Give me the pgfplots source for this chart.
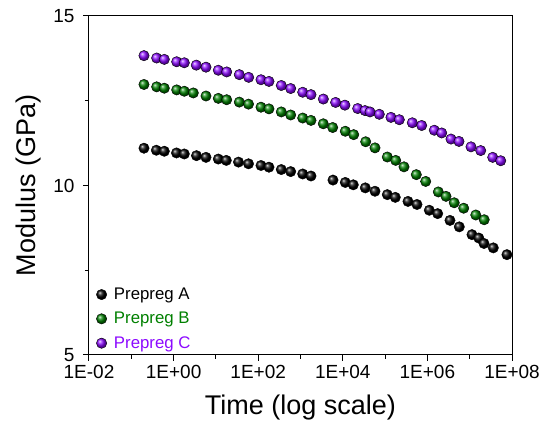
\documentclass[border=0pt]{standalone}
\usepackage{fontspec}
\setmainfont{Liberation Sans}
\usepackage{pgfplots}
\pgfplotsset{compat=1.18}
\usepackage{pgfplotstable}
\definecolor{pgreen}{RGB}{0,128,0}
\definecolor{ppurple}{RGB}{140,10,255}

\pgfplotstableread{
t E
0.1995 11.10
0.391 11.04
0.603 11.01
1.172 10.96
1.791 10.93
3.475 10.88
5.834 10.83
11.40 10.78
17.62 10.74
34.20 10.69
59.02 10.64
116.4 10.59
179.9 10.54
351.6 10.47
586.1 10.41
1127 10.34
1770 10.28
5861 10.16
11455 10.09
17700 10.02
34040 9.93
57677 9.83
112720 9.73
174181 9.65
347536 9.53
567544 9.44
1109175 9.27
1749847 9.17
3419794 8.97
5675446 8.78
11324004 8.55
16405897 8.45
21777963 8.29
36140986 8.16
75857758 7.96
}\dataA

\pgfplotstableread{
t E
0.1995 12.98
0.398 12.91
0.603 12.87
1.183 12.82
1.791 12.78
2.924 12.73
5.834 12.64
11.40 12.57
17.99 12.53
35.73 12.46
59.02 12.40
116.4 12.31
179.9 12.26
351.6 12.17
586.1 12.08
1127 11.99
1770 11.92
3459 11.82
5768 11.71
11455 11.60
18113 11.50
34754 11.29
57677 11.11
112720 10.84
178238 10.74
279898 10.55
547016 10.32
912011 10.12
1811340 9.81
2754229 9.68
4305266 9.49
7211075 9.33
13931568 9.13
22029264 8.99
}\dataB

\pgfplotstableread{
t E
0.1995 13.83
0.398 13.76
0.603 13.72
1.183 13.65
1.791 13.62
3.443 13.55
5.834 13.49
11.40 13.40
17.99 13.35
35.73 13.27
59.57 13.19
116.4 13.12
179.9 13.07
351.6 12.95
586.1 12.86
1127 12.75
1770 12.68
3467 12.55
6761 12.45
11220 12.37
22490 12.27
33497 12.21
43954 12.17
72946 12.10
137721 12.01
216770 11.94
439542 11.85
732825 11.77
1455487 11.63
2177700 11.55
3614099 11.37
5584702 11.30
10739894 11.14
18197009 11.03
34994516 10.83
54075286 10.73
}\dataC

\begin{document}
\begin{tikzpicture}
\begin{axis}[
  name=ax,
  scale only axis,
  width=423pt, height=339pt,
  xmode=log,
  xmin=1e-2, xmax=1e8,
  ymin=5, ymax=15,
  xtick={1e-2,1,1e2,1e4,1e6,1e8},
  xticklabels={1E-02,1E+00,1E+02,1E+04,1E+06,1E+08},
  minor xtick={1e-1,1e1,1e3,1e5,1e7},
  ytick={5,10,15},
  minor ytick={7.5,12.5},
  tick align=outside,
  xtick pos=bottom, ytick pos=left,
  major tick length=6pt, minor tick length=4pt,
  every tick/.style={black, line width=1pt},
  axis line style={line width=1pt},
  /pgf/number format/assume math mode=true,
  ticklabel style={font=\fontsize{19}{22}\selectfont},
  yticklabel style={xshift=-5pt},
  xticklabel style={yshift=-1pt},
  xlabel={Time (log scale)},
  ylabel={Modulus (GPa)},
  label style={font=\fontsize{27}{32}\selectfont},
  xlabel style={at={(axis description cs:0.5,0)}, anchor=center, yshift=-53pt},
  ylabel style={at={(axis description cs:0,0.5)}, anchor=center, yshift=60pt},
  legend style={at={(axis description cs:0,0)}, anchor=south west, draw=none, fill=none,
    font=\fontsize{16.8}{19}\selectfont, row sep=7.2pt, column sep=5pt, xshift=4pt, yshift=1pt},
  legend cell align=left,
  mark size=5.2pt,
]
\addplot[only marks, mark=ball, mark options={ball color=black}] table[x=t,y=E]{\dataA};
\addlegendentry{\textcolor{black}{Prepreg A}}
\addplot[only marks, mark=ball, mark options={ball color=pgreen}] table[x=t,y=E]{\dataB};
\addlegendentry{\textcolor{pgreen}{Prepreg B}}
\addplot[only marks, mark=ball, mark options={ball color=ppurple}] table[x=t,y=E]{\dataC};
\addlegendentry{\textcolor{ppurple}{Prepreg C}}
\end{axis}
\pgfresetboundingbox
\path[use as bounding box] ([shift={(-89pt,-72pt)}]ax.south west) rectangle ++(547pt,427pt);
\end{tikzpicture}
\end{document}
